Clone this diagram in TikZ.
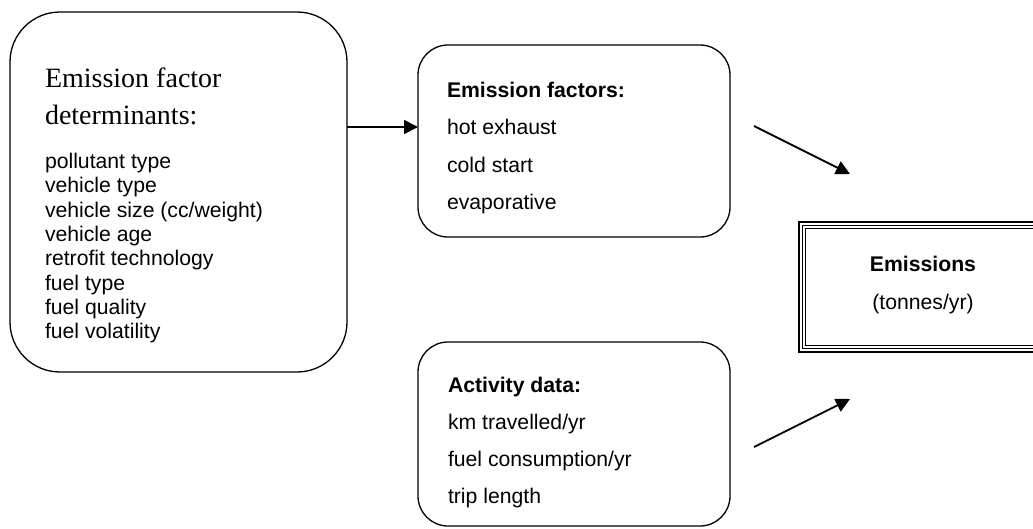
\documentclass[tikz,border=0pt]{standalone}
\usepackage{fontspec}
\setmainfont{Liberation Sans}
\newfontfamily\timesf{Liberation Serif}
\usetikzlibrary{arrows.meta}
\begin{document}
\begin{tikzpicture}[x=1pt,y=-1pt,
  box/.style={draw,line width=1.3pt,rounded corners=30pt,inner sep=0pt,outer sep=0pt},
  txt/.style={anchor=base west,inner sep=0pt,outer sep=0pt,font=\fontsize{21.2}{24}\selectfont},
  btxt/.style={txt,font=\fontsize{21.2}{24}\selectfont\bfseries},
  ttl/.style={anchor=base west,inner sep=0pt,outer sep=0pt,font=\timesf\fontsize{28}{34}\selectfont},
  ctxt/.style={anchor=base,inner sep=0pt,outer sep=0pt,font=\fontsize{21.2}{24}\selectfont},
  arr/.style={line width=1.8pt,-{Triangle[length=14pt,width=14pt]}}]
\useasboundingbox (0,0) rectangle (1033,528);
\clip (0,0) rectangle (1033,528);
% boxes
\node[box,rounded corners=50pt,minimum width=337pt,minimum height=360pt] (lb) at (178.5,192) {};
\node[box,minimum width=312pt,minimum height=192pt] (mb) at (574,141) {};
\node[box,minimum width=312pt,minimum height=184pt] (ab) at (574,434) {};
\node[draw,line width=1.3pt,inner sep=0pt,outer sep=0pt,minimum width=248pt,minimum height=130pt] (em) at (923,287) {};
\draw[line width=0.9pt] ([shift={(3.4pt,-3.4pt)}]em.north west) rectangle ([shift={(-3.4pt,3.4pt)}]em.south east);
\draw[line width=1.4pt] ([shift={(6.6pt,-6.6pt)}]em.north west) rectangle ([shift={(-6.6pt,6.6pt)}]em.south east);
% left box text
\node[ttl] (t1) at (45,87) {Emission factor};
\node[ttl] (t2) at (45,124) {determinants:};
\foreach \s [count=\i from 0] in {pollutant type,vehicle type,vehicle size (cc/weight),vehicle age,retrofit technology,fuel type,fuel quality,fuel volatility}
  \node[txt] (l\i) at (45,{168.5+24.3*\i}) {\s};
% emission factors
\node[btxt] (m0) at (447,97) {Emission factors:};
\node[txt] (m1) at (447,134.5) {hot exhaust};
\node[txt] (m2) at (447,172) {cold start};
\node[txt] (m3) at (447,209.5) {evaporative};
% activity data
\node[btxt] (a0) at (448,392) {Activity data:};
\node[txt] (a1) at (448,429) {km travelled/yr};
\node[txt] (a2) at (448,466) {fuel consumption/yr};
\node[txt] (a3) at (448,503) {trip length};
% emissions
\node[ctxt,font=\fontsize{21.2}{24}\selectfont\bfseries] (e0) at (923,271) {Emissions};
\node[ctxt] (e1) at (923,309) {(tonnes/yr)};
% arrows
\coordinate (y1) at (0,127);
\draw[arr] (y1 -| lb.east) -- (y1 -| mb.west);
\coordinate (s1) at (754,126);
\coordinate (e1t) at (850,174);
\coordinate (s2) at (754,447);
\coordinate (e2t) at (850,399);
\draw[arr] (s1) -- (e1t);
\draw[arr] (s2) -- (e2t);
\end{tikzpicture}
\end{document}
